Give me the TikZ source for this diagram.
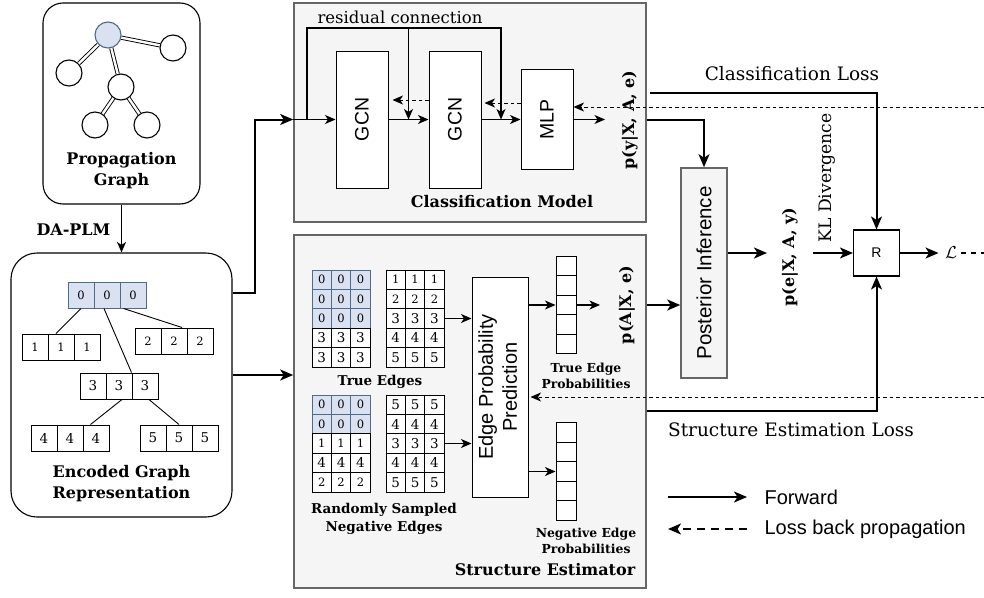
\documentclass[tikz,border=0pt]{standalone}
\usepackage{graphicx}
\usepackage{fontspec}
\setmainfont{DejaVu Serif}
\setsansfont{Liberation Sans}
\usetikzlibrary{positioning,arrows.meta,calc}
\definecolor{boxgray}{HTML}{666666}
\definecolor{boxfill}{HTML}{F5F5F5}
\definecolor{nodeblue}{HTML}{DAE1F1}
\definecolor{edgeblue}{HTML}{4F6B8C}
\newcommand\fsz[2]{\fontsize{#1}{#2}\selectfont}
\tikzset{
  panel/.style={draw=boxgray, fill=boxfill, line width=1.6pt, inner sep=0pt},
  rbox/.style={draw, line width=1.1pt, inner sep=0pt},
  gnode/.style={circle, draw, line width=1.1pt, fill=white, minimum size=26pt, inner sep=0pt},
  dbl/.style={double, double distance=2.4pt, line width=0.9pt},
  cell/.style={draw, line width=1pt, fill=white, minimum width=26pt, minimum height=26pt, inner sep=0pt, font=\fsz{13.5}{15}},
  mcell/.style={cell, minimum width=19.4pt, minimum height=19.4pt},
  dhi/.style={fill=nodeblue, draw=edgeblue, font=\fsz{11.5}{12}},
  dlo/.style={font=\fsz{11.5}{12}},
  dbig/.style={font=\fsz{13.5}{15}},
  pcell/.style={draw, line width=1pt, fill=white, minimum width=20pt, minimum height=19.5pt, inner sep=0pt},
  blk/.style={draw, line width=1pt, fill=white, inner sep=0pt, font=\sffamily\fsz{19.5}{24}},
  tl/.style={line width=0.9pt},
  fwd/.style={line width=2pt, -{Stealth[length=13pt, width=11pt, inset=3.5pt]}},
  fwdin/.style={line width=1.2pt, -{Stealth[length=10.5pt, width=9pt, inset=3pt]}},
  backin/.style={line width=1pt, dash pattern=on 3.5pt off 3pt, -{Stealth[length=10.5pt, width=9pt, inset=3pt]}},
  backleg/.style={line width=2pt, dash pattern=on 8pt off 6pt, -{Stealth[length=13pt, width=11pt, inset=3.5pt]}},
  hd/.style={font=\bfseries\fsz{16}{21}, align=center},
  sm/.style={font=\bfseries\fsz{13.5}{18}, align=center},
  tiny/.style={font=\bfseries\fsz{12.4}{16}, align=center},
  txt/.style={font=\fsz{18.5}{22}},
  sans/.style={font=\sffamily\fsz{20}{24}}
}
\begin{document}
\begin{tikzpicture}[x=1pt,y=-1pt]
\useasboundingbox (0,0) rectangle (984,597);
\node[rbox, minimum width=157pt, minimum height=201pt, rounded corners=20pt] (pg) at (121.5,103.5) {};
\node[rbox, minimum width=221pt, minimum height=264pt, rounded corners=26pt] (enc) at (121.5,385) {};
\node[panel, minimum width=352pt, minimum height=219pt] (cm) at (470,112.5) {};
\node[panel, minimum width=352pt, minimum height=353pt] (se) at (470,411.5) {};

\node[gnode, fill=nodeblue, draw=edgeblue] (g0) at (108,35) {};
\node[gnode] (g1) at (173,48) {};
\node[gnode] (g2) at (69,73) {};
\node[gnode] (g3) at (121,87) {};
\node[gnode] (g4) at (95,125) {};
\node[gnode] (g5) at (147,125) {};
\foreach \a/\b in {g0/g1,g0/g2,g0/g3,g3/g4,g3/g5}
  \draw[dbl] (\a) -- (\b);
\node[hd] (pgl) at (121.5,170.5) {Propagation\\Graph};
\draw[fwdin] (pg.south) -- (enc.north);
\node[hd] (dap) at (73.5,230) {DA-PLM};

\foreach \n/\x/\y/\d/\s in {o/68/282/0/dhi, a/22/334/1/dlo, b/135/328/2/dlo, c/80/373/3/dbig, d/31/425/4/dbig, e/140/425/5/dbig}
  \foreach \i in {0,1,2}
    \node[cell,\s] (\n\i) at (\x+13+26*\i,\y+13) {\d};
\draw[tl] (o0.south) -- ([xshift=-5pt]a1.north);
\draw[tl] ([xshift=-3pt]o1.south) -- (c2.north west);
\draw[tl] ([xshift=4pt]o2.south west) -- ([xshift=8pt]b1.north);
\draw[tl] ([xshift=3pt]c1.south) -- ([xshift=-5.5pt]d2.north);
\draw[tl] ([xshift=4pt]c2.south) -- (e1.north);
\node[hd] (encl) at (121.5,483.5) {Encoded Graph\\Representation};

\draw[fwd] (enc.east |- 0,293) -- (255,293) |- (cm.west |- 0,119.5);
\draw[fwd] (enc.east |- 0,375) -- (se.west |- 0,375);

\node[blk, minimum width=52pt, minimum height=137pt] (gcn1) at (362,119.5) {\rotatebox{90}{GCN}};
\node[blk, minimum width=52pt, minimum height=137pt] (gcn2) at (455,119.5) {\rotatebox{90}{GCN}};
\node[blk, minimum width=52pt, minimum height=100pt] (mlp) at (547,119.5) {\rotatebox{90}{MLP}};
\node[font=\fsz{16.5}{18}] (res) at (400,17) {residual connection};
\coordinate (rs) at (307,119.5);
\coordinate (r1) at ($(gcn1.east)!.5!(gcn2.west)$);
\coordinate (r2) at ($(gcn2.east)!.5!(mlp.west)$);
\coordinate (pyo) at (605,119.5);
\draw[fwdin] (cm.west |- gcn1) -- (gcn1.west);
\draw[fwdin] (gcn1.east) -- (gcn2.west);
\draw[fwdin] (gcn2.east) -- (mlp.west);
\draw[fwdin] (mlp.east) -- (pyo);
\draw[fwdin] (rs) |- (r1 |- 0,28) -| (r2);
\draw[fwdin] (r1 |- 0,28) -- (r1);
\draw[backin, shorten >=4pt] (gcn2.west |- 0,100) -- (gcn1.east |- 0,100);
\draw[backin, shorten >=3pt] (mlp.west |- 0,103) -- (gcn2.east |- 0,103);
\node[hd] (cml) at (502,202) {Classification Model};
\node[hd, rotate=90] (py) at (630,120) {p(y|X, A, e)};

\foreach \r/\v/\s in {1/0/dhi,2/0/dhi,3/0/dhi,4/3/dbig,5/3/dbig}
  \foreach \c in {1,2,3}
    \node[mcell,\s] (ta\r\c) at (312+19.4*\c-9.7,270+19.4*\r-9.7) {\v};
\foreach \r/\v/\s in {1/1/dlo,2/2/dlo,3/3/dbig,4/4/dbig,5/5/dbig}
  \foreach \c in {1,2,3}
    \node[mcell,\s] (tb\r\c) at (386+19.4*\c-9.7,270+19.4*\r-9.7) {\v};
\foreach \r/\v/\s in {1/0/dhi,2/0/dhi,3/1/dlo,4/4/dbig,5/2/dlo}
  \foreach \c in {1,2,3}
    \node[mcell,\s] (na\r\c) at (312+19.4*\c-9.7,395+19.4*\r-9.7) {\v};
\foreach \r/\v/\s in {1/5/dbig,2/4/dbig,3/3/dbig,4/4/dbig,5/5/dbig}
  \foreach \c in {1,2,3}
    \node[mcell,\s] (nb\r\c) at (386+19.4*\c-9.7,395+19.4*\r-9.7) {\v};
\node[sm] (tel) at (380,382) {True Edges};
\node[sm] (nel) at (384,519) {Randomly Sampled\\Negative Edges};

\node[blk, font=\sffamily\fsz{20}{24}, minimum width=56pt, minimum height=220pt] (epp) at (500,387)
  {\rotatebox{90}{\begin{tabular}{@{}c@{}}Edge Probability\\Prediction\end{tabular}}};
\foreach \i in {1,...,5}
  \node[pcell] (tp\i) at (566,256+19.6*\i-9.8) {};
\foreach \i in {1,...,5}
  \node[pcell] (np\i) at (566,423+19.4*\i-9.7) {};
\coordinate (pai) at (600,305);
\draw[fwdin] (tb33.east) -- (epp.west |- tb33);
\draw[fwdin] (nb33.east) -- (epp.west |- nb33);
\draw[fwdin] (epp.east |- tp3) -- (tp3.west);
\draw[fwdin] (tp3.east) -- (pai);
\draw[fwdin] (epp.east |- np3) -- (np3.west);
\node[tiny] (tpl) at (586,376) {True Edge\\Probabilities};
\node[tiny] (npl) at (586,541) {Negative Edge\\Probabilities};
\node[hd] (sel) at (545,570) {Structure Estimator};
\node[hd, rotate=90] (pa) at (627,305) {p(A|X, e)};

\node[panel, font=\sffamily\fsz{20.5}{24}, minimum width=46pt, minimum height=210pt] (pi) at (704,273) {\rotatebox{90}{Posterior Inference}};
\node[rbox, minimum size=46pt, font=\sffamily\fsz{14}{16}] (rb) at (876.5,253) {R};
\node[hd, rotate=90] (pe) at (790,257) {p(e|X, A, y)};
\node[font=\fsz{17.2}{18}, rotate=90] (kl) at (827,178) {KL Divergence};
\node[font=\fsz{18}{20}] (ls) at (951,253) {$\mathcal{L}$};
\node[txt] (cll) at (792,74) {Classification Loss};
\node[txt] (sll) at (791,430) {Structure Estimation Loss};
\coordinate (pei) at (767,253);
\coordinate (peo) at (813,253);
\coordinate (cl0) at (650,93);
\coordinate (bk1) at (984,107);
\coordinate (bk2) at (984,397);
\coordinate (le) at (984,253);
\draw[fwd] (se.east |- pa) -- (pi.west |- pa);
\draw[fwd] (cm.east |- mlp) -| (pi.north);
\draw[fwd] (pi.east |- rb) -- (pei);
\draw[fwd] (peo) -- (rb.west);
\draw[fwd] (cl0) -| (rb.north);
\draw[fwd] (se.east |- 0,411) -| (rb.south);
\draw[fwd, shorten >=3pt] (rb.east) -- (ls.west);
\draw[line width=1.2pt, dash pattern=on 5pt off 5pt] (ls.east) -- (le);
\draw[backin] (bk1) -- (mlp.east |- bk1);
\draw[backin, shorten >=2pt] (bk2) -- (epp.east |- bk2);

\coordinate (lg0) at (668,497);
\coordinate (lg1) at (747,497);
\coordinate (lg2) at (747,529);
\coordinate (lg3) at (668,529);
\draw[fwd] (lg0) -- (lg1);
\draw[backleg] (lg2) -- (lg3);
\node[sans, anchor=west] (fwl) at (761,497) {Forward};
\node[sans, anchor=west] (bkl) at (761,529) {Loss back propagation};
\end{tikzpicture}
\end{document}
